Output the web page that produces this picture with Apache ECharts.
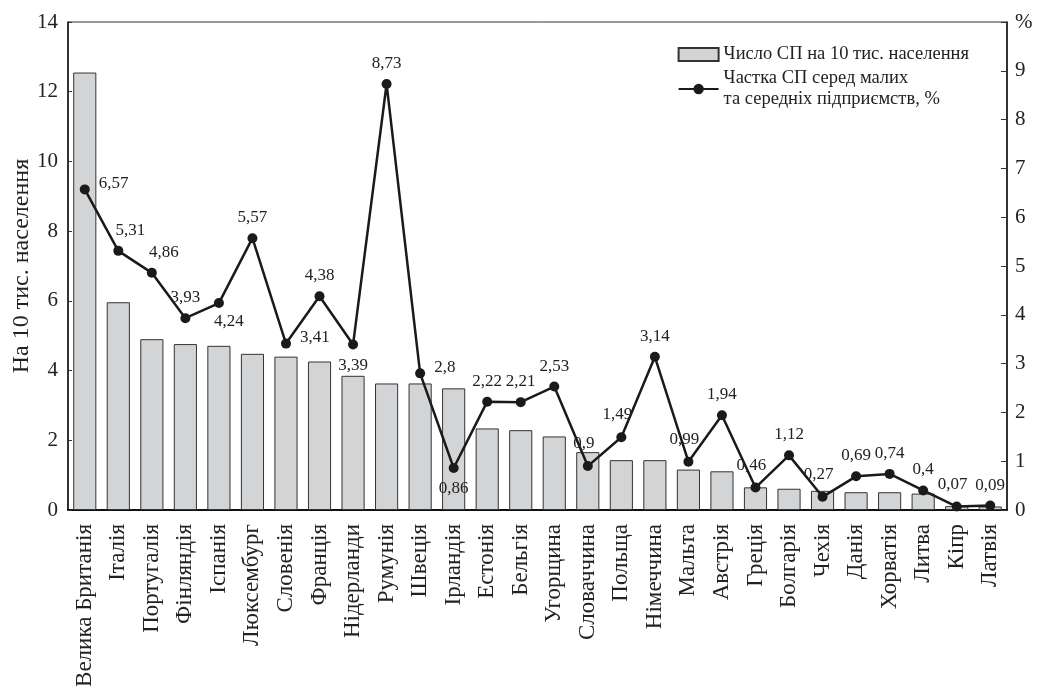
<!DOCTYPE html>
<html>
<head>
<meta charset="utf-8">
<script src="https://cdn.jsdelivr.net/npm/echarts@6/dist/echarts.min.js"></script>
<style>
  html, body { margin: 0; padding: 0; background: #fff; }
  #chart { width: 1042px; height: 696px; }
</style>
</head>
<body>
<div id="chart"></div>
<script>
const countries = ['Велика Британія', 'Італія', 'Португалія', 'Фінляндія', 'Іспанія', 'Люксембург',
  'Словенія', 'Франція', 'Нідерланди', 'Румунія', 'Швеція', 'Ірландія', 'Естонія', 'Бельгія',
  'Угорщина', 'Словаччина', 'Польща', 'Німеччина', 'Мальта', 'Австрія', 'Греція', 'Болгарія',
  'Чехія', 'Данія', 'Хорватія', 'Литва', 'Кіпр', 'Латвія'];

// число СП на 10 тис. населення (ліва вісь)
const perTenThousand = [12.55, 5.96, 4.9, 4.76, 4.71, 4.48, 4.4, 4.26, 3.85, 3.63, 3.63, 3.49, 2.34, 2.29,
  2.11, 1.66, 1.43, 1.43, 1.16, 1.11, 0.65, 0.61, 0.55, 0.51, 0.51, 0.47, 0.11, 0.1];

// частка СП серед малих та середніх підприємств, % (права вісь)
const sharePct = [6.57, 5.31, 4.86, 3.93, 4.24, 5.57, 3.41, 4.38, 3.39, 8.73, 2.8, 0.86, 2.22, 2.21,
  2.53, 0.9, 1.49, 3.14, 0.99, 1.94, 0.46, 1.12, 0.27, 0.69, 0.74, 0.4, 0.07, 0.09];

// where each value label sits relative to its point
const labelPlace = ['r', 'tr', 'tr', 't', 'br', 't', 'r', 't', 'b', 't', 'r', 'b', 't', 't',
  't', 'tl', 'tl', 't', 'tl', 't', 'tl', 't', 'tl', 't', 't', 't', 'tl', 't'];

const leftTicks = [0, 2, 4, 6, 8, 10, 12, 14];
const rightTicks = [0, 1, 2, 3, 4, 5, 6, 7, 8, 9, 10];

const serif = 'Liberation Serif';

function placeLabel(p) {
  if (p === 'r') return { position: 'right', offset: [4, -6] };
  if (p === 'tr') return { position: 'top', offset: [12, -2] };
  if (p === 'br') return { position: 'bottom', offset: [10, 0] };
  if (p === 'b') return { position: 'bottom', offset: [0, 2] };
  if (p === 'tl') return { position: 'top', offset: [-4, -4] };
  return { position: 'top', offset: [0, -2] };
}

const lineData = sharePct.map((v, i) => ({ value: v, label: placeLabel(labelPlace[i]) }));

const chart = echarts.init(document.getElementById('chart'));
chart.setOption({
  animation: false,
  textStyle: { fontFamily: serif, color: '#222' },
  grid: {
    left: 68, right: 35, top: 22, bottom: 186,
    outerBoundsMode: 'none',
    show: true, borderColor: '#333', borderWidth: 1
  },
  legend: {
    orient: 'vertical',
    right: 68,
    top: 39,
    itemWidth: 40,
    itemHeight: 13,
    itemGap: 3,
    textStyle: { fontFamily: serif, fontSize: 18.5, color: '#222', lineHeight: 21 },
    data: [
      { name: 'Число СП на 10 тис. населення', icon: 'rect' },
      { name: 'Частка СП серед малих\nта середніх підприємств, %' }
    ]
  },
  xAxis: {
    type: 'category',
    data: countries,
    axisLine: { lineStyle: { color: '#111', width: 2 } },
    axisTick: { inside: true, length: 4, lineStyle: { color: '#333' } },
    axisLabel: { rotate: 90, fontSize: 23, color: '#222', margin: 14, interval: 0 }
  },
  yAxis: [
    {
      type: 'value',
      min: 0,
      max: leftTicks[leftTicks.length - 1],
      interval: 2,
      name: 'На 10 тис. населення',
      nameLocation: 'middle',
      nameGap: 34,
      nameMoveOverlap: false,
      nameTextStyle: { fontSize: 24, color: '#222' },
      axisLine: { show: true, lineStyle: { color: '#111', width: 1.5 } },
      axisTick: { show: true, inside: true, length: 4, lineStyle: { color: '#333' } },
      axisLabel: { fontSize: 21, color: '#222', margin: 10 },
      splitLine: { show: false }
    },
    {
      type: 'value',
      min: 0,
      max: rightTicks[rightTicks.length - 1],
      interval: 1,
      position: 'right',
      axisLine: { show: true, lineStyle: { color: '#111', width: 1.5 } },
      axisTick: { show: true, inside: true, length: 6, lineStyle: { color: '#333' } },
      axisLabel: {
        fontSize: 21, color: '#222', margin: 8,
        formatter: v => (v === 10 ? '%' : String(v))
      },
      splitLine: { show: false }
    }
  ],
  series: [
    {
      name: 'Число СП на 10 тис. населення',
      type: 'bar',
      yAxisIndex: 0,
      data: perTenThousand,
      barCategoryGap: '31%',
      itemStyle: { color: '#d3d4d6', borderColor: '#333', borderWidth: 1 }
    },
    {
      name: 'Частка СП серед малих\nта середніх підприємств, %',
      type: 'line',
      yAxisIndex: 1,
      data: lineData,
      symbol: 'circle',
      symbolSize: 10,
      lineStyle: { color: '#1a1a1a', width: 2.5 },
      itemStyle: { color: '#1a1a1a' },
      label: {
        show: true,
        fontSize: 17,
        color: '#222',
        fontFamily: serif,
        formatter: p => String(p.value).replace('.', ',')
      },
      z: 5
    }
  ]
});
</script>
</body>
</html>
